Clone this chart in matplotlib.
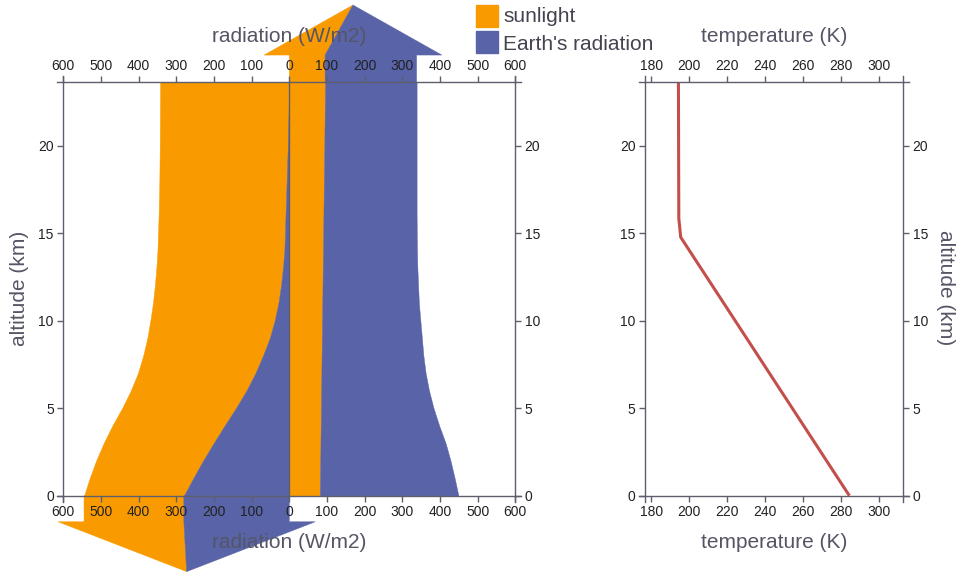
import numpy as np
import matplotlib
matplotlib.use("Agg")
import matplotlib.pyplot as plt
from matplotlib.lines import Line2D
from matplotlib.patches import Rectangle
from matplotlib.ticker import FuncFormatter, MultipleLocator
import matplotlib.transforms as mtransforms

plt.rcParams['font.family'] = ['Liberation Sans', 'DejaVu Sans']

# ---------------- data ----------------
altitude = [0, 1, 2, 3, 4, 5, 6, 7, 8, 9, 10, 11, 12, 13, 14, 16, 18, 20, 23.64]
# total downward radiation (sunlight + Earth's back radiation), W/m2
down_total = [545, 530, 513, 493, 470, 444, 421, 402, 388, 377, 369, 362, 357, 353, 350, 347, 345, 344, 343]
# downward Earth's radiation
down_earth = [280, 255, 229, 201, 172, 142, 114, 90, 70, 52, 39, 29, 22, 17, 13, 10, 7, 4, 0]
# upward reflected sunlight
up_sun = [81, 81.6, 82.2, 82.8, 83.4, 84, 84.6, 85.2, 85.8, 86.4, 87, 87.6, 88.2, 88.8, 89.4, 90.6, 91.8, 93, 95]
# total upward radiation
up_total = [449, 439, 428, 415, 398, 383, 371, 362, 356, 352, 348, 344, 342, 340, 339, 338, 338, 338, 338]

temp_alt = [0, 14.77, 15.85, 23.64]
temperature = [284.4, 195.6, 194.6, 194.4]

rad_ticks = [-600, -500, -400, -300, -200, -100, 0, 100, 200, 300, 400, 500, 600]
temp_ticks = [180, 200, 220, 240, 260, 280, 300]
alt_ticks = [0, 5, 10, 15, 20]

# ---------------- style ----------------
ORANGE = '#f99b00'
BLUE = '#5863a8'
RED = '#c34f4b'
SPINE = '#5e5e6e'
TITLE = '#555566'
TICKLAB = '#222222'

W, H = 966, 573
fig = plt.figure(figsize=(W / 100, H / 100), dpi=100)

def px_axes(x0, x1, y0, y1):
    return fig.add_axes([x0 / W, 1 - y1 / H, (x1 - x0) / W, (y1 - y0) / H])

ax = px_axes(63.3, 515.3, 82, 495.7)
ax2 = px_axes(645, 903.3, 82, 495.7)

YTOP = 23.64

def style_axes(a):
    for s in a.spines.values():
        s.set_color(SPINE)
        s.set_linewidth(1.0)
    a.tick_params(direction='out', length=4.3, width=1.0, color=SPINE,
                  labelsize=10, labelcolor=TICKLAB, pad=2.5,
                  top=True, labeltop=True, bottom=True, labelbottom=True,
                  left=True, labelleft=True, right=True, labelright=True)
    a.set_ylim(0, YTOP)
    a.set_yticks(alt_ticks)
    # D3-style outer end stubs
    L = 6 / 100.0
    for cx, sx in ((0, -1), (1, 1)):
        for cy, sy in ((0, -1), (1, 1)):
            tr = fig.dpi_scale_trans + mtransforms.ScaledTranslation(cx, cy, a.transAxes)
            a.add_line(Line2D([0, sx * L], [0, 0], transform=tr, color=SPINE, lw=1.0, clip_on=False))
            a.add_line(Line2D([0, 0], [0, sy * L], transform=tr, color=SPINE, lw=1.0, clip_on=False))

# ---------------- radiation panel ----------------
alt = np.array(altitude)
dt = np.array(down_total)
de = np.array(down_earth)
us = np.array(up_sun)
ut = np.array(up_total)

kw = dict(linewidth=0.3, clip_on=False)
ax.fill_betweenx(alt, -dt, -de, color=ORANGE, **kw)
ax.fill_betweenx(alt, -de, 0, color=BLUE, **kw)
ax.fill_betweenx(alt, 0, us, color=ORANGE, **kw)
ax.fill_betweenx(alt, us, ut, color=BLUE, **kw)

# top arrow (upward radiation leaving)
t_base, t_tip, t_over = 25.18, 28.04, 67
ts, tt = up_sun[-1], up_total[-1]
tc = tt / 2
ax.fill([0, ts, ts, tc, tc - tc - t_over, 0],
        [YTOP, YTOP, t_base, t_tip, t_base, t_base], color=ORANGE, lw=0.3, clip_on=False)
ax.fill([ts, tt, tt, tc + tc + t_over, tc, ts],
        [YTOP, YTOP, t_base, t_base, t_tip, t_base], color=BLUE, lw=0.3, clip_on=False)

# bottom arrow (downward radiation reaching the surface)
b_base, b_tip, b_over = -1.49, -4.34, 69
bt, be = -down_total[0], -down_earth[0]
bc = bt / 2
ax.fill([bt, be, be, bc, bt - b_over, bt],
        [0, 0, b_base, b_tip, b_base, b_base], color=ORANGE, lw=0.3, clip_on=False)
ax.fill([be, 0, 0, b_over, bc, be],
        [0, 0, b_base, b_base, b_tip, b_base], color=BLUE, lw=0.3, clip_on=False)

ax.axvline(0, color=SPINE, lw=1.0, zorder=3)

ax.set_xlim(-600, 600)
ax.set_xticks(rad_ticks)
ax.xaxis.set_major_formatter(FuncFormatter(lambda v, p: f"{abs(v):.0f}"))
style_axes(ax)

# ---------------- temperature panel ----------------
ax2.plot(temperature, temp_alt, color=RED, lw=2.2, solid_capstyle='butt')
ax2.set_xlim(176.8, 312.8)
ax2.set_xticks(temp_ticks)
style_axes(ax2)

# ---------------- titles ----------------
tk = dict(fontsize=15, color=TITLE, ha='center', va='center')
fig.text(289.3 / W, 1 - 36 / H, 'radiation (W/m2)', **tk)
fig.text(289.3 / W, 1 - 542 / H, 'radiation (W/m2)', **tk)
fig.text(774 / W, 1 - 36 / H, 'temperature (K)', **tk)
fig.text(774 / W, 1 - 542 / H, 'temperature (K)', **tk)
fig.text(20 / W, 1 - 288 / H, 'altitude (km)', rotation=90, **tk)
fig.text(946 / W, 1 - 288 / H, 'altitude (km)', rotation=270, **tk)

# ---------------- legend ----------------
fig.add_artist(Rectangle((476 / W, 1 - 27 / H), 22 / W, 22 / H, transform=fig.transFigure, color=ORANGE))
fig.add_artist(Rectangle((476 / W, 1 - 53 / H), 22 / W, 22 / H, transform=fig.transFigure, color=BLUE))
fig.text(503 / W, 1 - 17 / H, 'sunlight', fontsize=15, color='#444450', ha='left', va='center')
fig.text(503 / W, 1 - 44 / H, "Earth's radiation", fontsize=15, color='#444450', ha='left', va='center')

fig.savefig('out.png', dpi=100)
